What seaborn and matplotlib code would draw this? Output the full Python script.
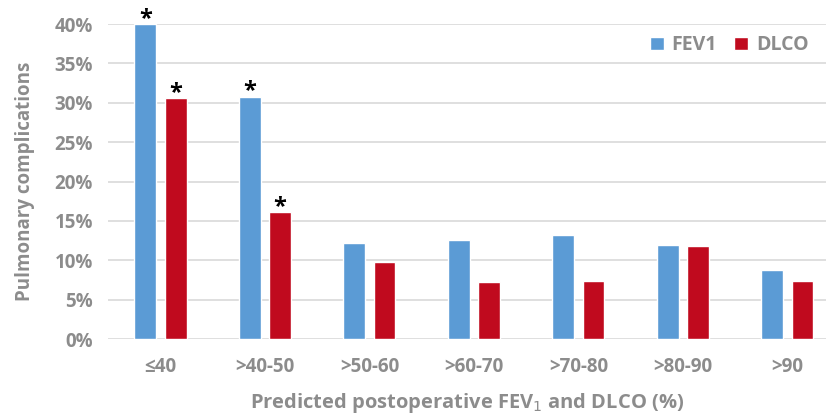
import matplotlib
matplotlib.use("Agg")
import matplotlib.pyplot as plt
import seaborn as sns
import pandas as pd

# values (% pulmonary complications)
categories = ["≤40", ">40-50", ">50-60", ">60-70", ">70-80", ">80-90", ">90"]
fev1 = [40.0, 30.8, 12.2, 12.6, 13.2, 12.0, 8.8]
dlco = [30.6, 16.1, 9.8, 7.3, 7.4, 11.8, 7.4]
significant_fev1 = [True, True, False, False, False, False, False]
significant_dlco = [True, True, False, False, False, False, False]

df = pd.DataFrame({
    "Group": categories * 2,
    "Value": fev1 + dlco,
    "Test": ["FEV1"] * len(categories) + ["DLCO"] * len(categories),
})

sns.set_style("white")
plt.rcParams["font.family"] = ["Open Sans", "DejaVu Sans"]
gray = "#8C8C8C"

fig = plt.figure(figsize=(8.26, 4.16), dpi=100)
ax = fig.add_axes([0.131, 0.185, 0.869, 0.757])

sns.barplot(data=df, x="Group", y="Value", hue="Test", order=categories,
            hue_order=["FEV1", "DLCO"], palette=["#5B9BD5", "#C00A1E"],
            saturation=1, width=0.58, gap=0.28, ax=ax, zorder=3)

ax.set_ylim(0, 40)
ax.set_xlim(-0.5, 6.37)
ax.set_yticks(range(0, 41, 5))
ax.set_yticklabels([f"{v}%" for v in range(0, 41, 5)])
ax.grid(axis="y", color="#D9D9D9", linewidth=1.2, zorder=0)
ax.set_axisbelow(True)
for s in ax.spines.values():
    s.set_visible(False)
ax.tick_params(axis="both", length=0, labelsize=13.5, labelcolor=gray)
ax.tick_params(axis="x", pad=13)
ax.tick_params(axis="y", pad=11)
for lab in ax.get_xticklabels() + ax.get_yticklabels():
    lab.set_fontweight("bold")

ax.set_ylabel("Pulmonary complications", fontsize=13.5, color=gray,
              fontweight="bold", labelpad=14)
ax.set_xlabel("Predicted postoperative FEV$_1$ and DLCO (%)", fontsize=14.5,
              color=gray, fontweight="bold", labelpad=10)

# asterisks on significant bars
for i, (sf, sd) in enumerate(zip(significant_fev1, significant_dlco)):
    if sf:
        ax.annotate("*", (i - 0.145, fev1[i]), xytext=(0, -5),
                    textcoords="offset points", ha="center", va="bottom",
                    fontsize=17, fontweight="bold", color="black",
                    annotation_clip=False)
    if sd:
        ax.annotate("*", (i + 0.145, dlco[i]), xytext=(0, -5),
                    textcoords="offset points", ha="center", va="bottom",
                    fontsize=17, fontweight="bold", color="black",
                    annotation_clip=False)

leg = ax.legend(loc="upper right", bbox_to_anchor=(1.0, 1.02), ncol=2,
                frameon=False, fontsize=14, handlelength=0.7, handleheight=0.7,
                columnspacing=0.9, handletextpad=0.4)
for t in leg.get_texts():
    t.set_color(gray)
    t.set_fontweight("bold")

fig.savefig("out.png", dpi=100)
